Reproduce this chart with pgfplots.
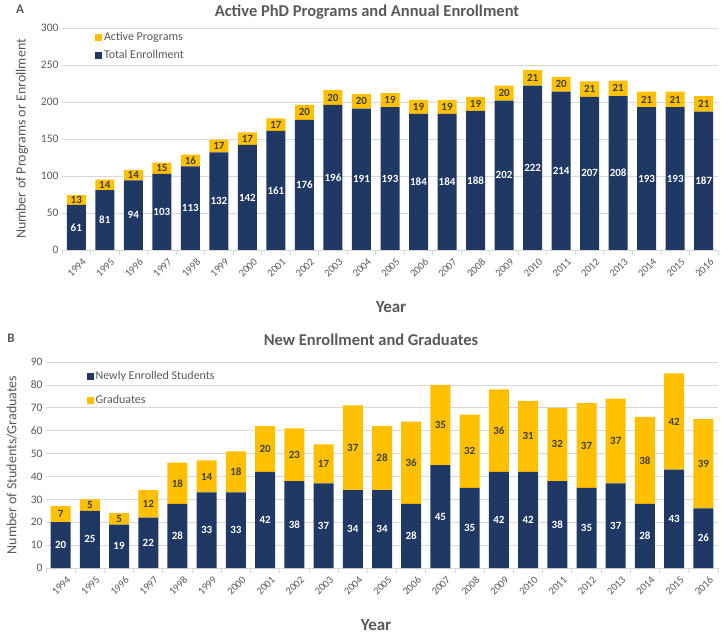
\documentclass[border=0pt]{standalone}
\usepackage{fontspec}
\setmainfont{Carlito}
\usepackage{pgfplots}
\pgfplotsset{compat=1.18}
\usepackage{pgfplotstable}
\definecolor{navy}{HTML}{203864}
\definecolor{gold}{HTML}{FFC000}
\definecolor{txt}{HTML}{595959}
\definecolor{lab}{HTML}{404040}
\definecolor{gridc}{HTML}{D9D9D9}

\pgfplotstableread{
year enr prog
1994 61 13
1995 81 14
1996 94 14
1997 103 15
1998 113 16
1999 132 17
2000 142 17
2001 161 17
2002 176 20
2003 196 20
2004 191 20
2005 193 19
2006 184 19
2007 184 19
2008 188 19
2009 202 20
2010 222 21
2011 214 20
2012 207 21
2013 208 21
2014 193 21
2015 193 21
2016 187 21
}\tableA

\pgfplotstableread{
year new grad
1994 20 7
1995 25 5
1996 19 5
1997 22 12
1998 28 18
1999 33 14
2000 33 18
2001 42 20
2002 38 23
2003 37 17
2004 34 37
2005 34 28
2006 28 36
2007 45 35
2008 35 32
2009 42 36
2010 42 31
2011 38 32
2012 35 37
2013 37 37
2014 28 38
2015 43 42
2016 26 39
}\tableB

\pgfplotsset{
  mybar/.style={
    scale only axis,
    ybar stacked,
    xmin=1993.5, xmax=2016.5,
    xtick={1994,...,2016},
    minor xtick={1993.5,1994.5,...,2016.5},
    axis lines*=left,
    y axis line style={draw=none},
    x axis line style={draw=gridc, line width=0.8pt},
    tick align=outside,
    major tick length=0pt,
    minor tick length=5pt,
    minor tick style={draw=gridc, line width=0.8pt},
    ymajorgrids,
    grid style={draw=gridc, line width=0.7pt},
    /pgf/number format/assume math mode=true,
    x tick label style={rotate=45, anchor=north east, /pgf/number format/1000 sep=, font=\fontsize{10.5}{12}\selectfont, text=txt, yshift=-6pt, xshift=2pt},
    y tick label style={font=\fontsize{11.5}{13}\selectfont, text=txt},
    legend cell align=left,
    legend image code/.code={\fill[##1] (0pt,-3.5pt) rectangle (7pt,3.5pt);},
    nodes near coords,
    nodes near coords align={center},
    point meta=explicit,
    every node near coord/.append style={anchor=center, font=\bfseries\fontsize{11}{12}\selectfont},
    ylabel style={font=\fontsize{14}{16}\selectfont, text=txt},
  }
}

\begin{document}
\begin{tikzpicture}
\useasboundingbox (0,0) rectangle (722pt,634pt);

% Panel A
\begin{axis}[mybar,
  at={(62pt,384pt)}, anchor=south west,
  width=656pt, height=222pt,
  ymin=0, ymax=300, ytick={0,50,...,300},
  bar width=19pt,
  ylabel={Number of Programs or Enrollment},
  ylabel style={at={(axis description cs:-0.061,0.5)}, anchor=center},
  reverse legend,
  legend style={at={(axis description cs:0.05,0.99)}, anchor=north west, draw=none, fill=none, inner sep=0pt, font=\fontsize{12}{13}\selectfont, text=txt, row sep=4pt},
]
\addplot[fill=navy, draw=none, every node near coord/.append style={text=white}] table[x=year, y=enr, meta=enr] {\tableA};
\addlegendentry{Total Enrollment}
\addplot[fill=gold, draw=none, every node near coord/.append style={text=lab}] table[x=year, y=prog, meta=prog] {\tableA};
\addlegendentry{Active Programs}
\end{axis}

% Panel B
\begin{axis}[mybar,
  at={(46pt,66pt)}, anchor=south west,
  width=672pt, height=206pt,
  ymin=0, ymax=90, ytick={0,10,...,90},
  bar width=20pt,
  ylabel={Number of Students/Graduates},
  ylabel style={at={(axis description cs:-0.051,0.5)}, anchor=center},
  legend style={at={(axis description cs:0.06,0.965)}, anchor=north west, draw=none, fill=none, inner sep=0pt, font=\fontsize{12}{13}\selectfont, text=txt, row sep=10pt},
]
\addplot[fill=navy, draw=none, every node near coord/.append style={text=white}] table[x=year, y=new, meta=new] {\tableB};
\addlegendentry{Newly Enrolled Students}
\addplot[fill=gold, draw=none, every node near coord/.append style={text=lab}] table[x=year, y=grad, meta=grad] {\tableB};
\addlegendentry{Graduates}
\end{axis}

% Titles and labels
\node[font=\bfseries\fontsize{16.5}{19}\selectfont, text=txt] at (367pt,622pt) {Active PhD Programs and Annual Enrollment};
\node[font=\bfseries\fontsize{16.5}{19}\selectfont, text=txt] at (371pt,294pt) {New Enrollment and Graduates};
\node[font=\bfseries\fontsize{13}{15}\selectfont, text=txt] at (20pt,625pt) {A};
\node[font=\bfseries\fontsize{13}{15}\selectfont, text=txt] at (11pt,296pt) {B};
\node[font=\bfseries\fontsize{17}{19}\selectfont, text=txt] at (391pt,327pt) {Year};
\node[font=\bfseries\fontsize{17}{19}\selectfont, text=txt] at (376pt,9pt) {Year};
\end{tikzpicture}
\end{document}
